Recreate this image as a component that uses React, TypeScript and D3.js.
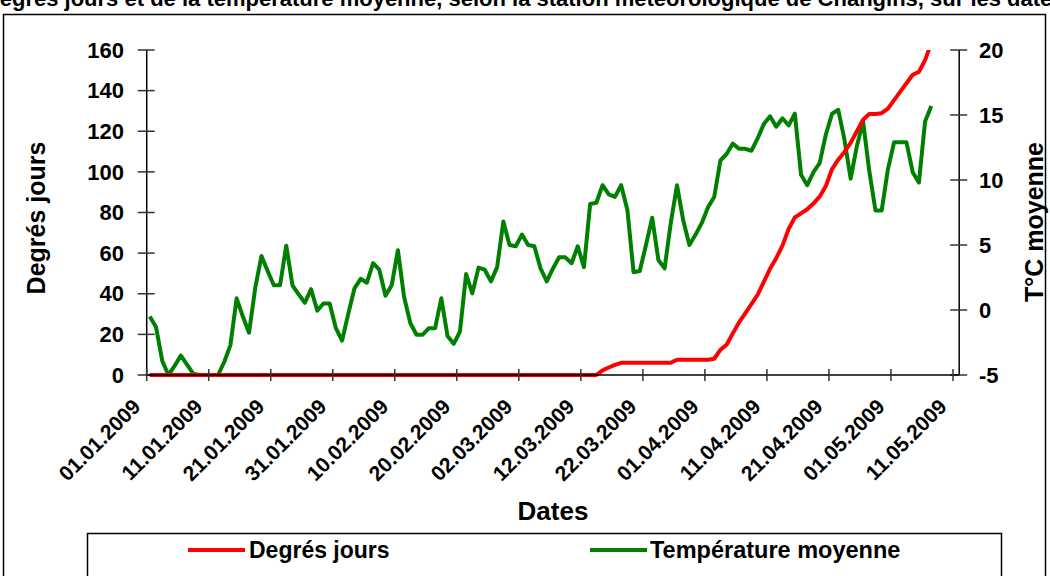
import React from 'react';
import * as d3 from 'd3';

// ---- Data ----
const startDay = new Date(Date.UTC(2009, 0, 1));
const dates: Date[] = d3.utcDay.range(startDay, new Date(Date.UTC(2009, 4, 8))); // 01.01 .. 07.05

const degresJours: number[] = [
  0, 0, 0, 0, 0, 0, 0, 0, 0, 0,
  0, 0, 0, 0, 0, 0, 0, 0, 0, 0,
  0, 0, 0, 0, 0, 0, 0, 0, 0, 0,
  0, 0, 0, 0, 0, 0, 0, 0, 0, 0,
  0, 0, 0, 0, 0, 0, 0, 0, 0, 0,
  0, 0, 0, 0, 0, 0, 0, 0, 0, 0,
  0, 0, 0, 0, 0, 0, 0, 0, 0, 0,
  0, 0,
  0, 2.3, 3.7, 5.0, 6.0, 6.0, 6.0, 6.0, 6.0, 6.0,
  6.0, 6.0, 6.0, 7.5, 7.5, 7.5, 7.5, 7.5, 7.5, 8.0,
  12.4, 14.9, 20.5, 25.9, 30.3, 34.9, 39.5, 45.9, 52.3, 57.5,
  63.7, 71.9, 77.6, 79.6, 81.6, 84.4, 87.8, 93.0, 101.4, 106.0,
  109.8, 114.3, 120.0, 125.7, 128.5, 128.5, 128.9, 131.1, 135.3, 139.5,
  143.6, 147.8, 149.2, 155.0, 163.5,
];

const temperatureMoyenne: number[] = [
  -0.5, -1.3, -3.9, -5.0, -4.3, -3.5, -4.2, -4.9, -5.0, -5.0,
  -5.0, -5.0, -4.0, -2.7, 0.9, -0.5, -1.75, 1.7, 4.15, 3.0,
  1.9, 1.9, 4.95, 1.9, 1.2, 0.56, 1.6, -0.05, 0.5, 0.5,
  -1.4, -2.35, -0.3, 1.67, 2.4, 2.1, 3.6, 3.1, 1.1, 1.9,
  4.6, 1.0, -1.0, -1.9, -1.9, -1.4, -1.4, 0.9, -2.0, -2.6,
  -1.67, 2.77, 1.28, 3.26, 3.1, 2.2, 3.3, 6.8, 5.0, 4.9,
  5.8, 5.0, 4.9, 3.2, 2.2, 3.2, 4.05, 4.05, 3.6, 4.9,
  3.3, 8.15, 8.25, 9.6, 8.9, 8.7, 9.6, 7.7, 2.9, 3.0,
  5.0, 7.1, 3.85, 3.2, 6.7, 9.6, 6.9, 5.0, 5.8, 6.7,
  7.9, 8.7, 11.5, 12.0, 12.8, 12.4, 12.4, 12.25, 13.2, 14.3,
  14.9, 14.1, 14.75, 14.2, 15.1, 10.4, 9.6, 10.6, 11.3, 13.5,
  15.1, 15.4, 13.1, 10.1, 12.6, 14.5, 10.7, 7.65, 7.65, 10.8,
  12.9, 12.9, 12.9, 10.6, 9.8, 14.5, 15.7,
];

const xTickLabels: string[] = [
  '01.01.2009', '11.01.2009', '21.01.2009', '31.01.2009', '10.02.2009',
  '20.02.2009', '02.03.2009', '12.03.2009', '22.03.2009', '01.04.2009',
  '11.04.2009', '21.04.2009', '01.05.2009', '11.05.2009',
];
const leftTicks: number[] = [0, 20, 40, 60, 80, 100, 120, 140, 160];
const rightTicks: number[] = [-5, 0, 5, 10, 15, 20];

const seriesNames = ['Degrés jours', 'Température moyenne'];
const titleText =
  "Évolution des degrés jours et de la température moyenne, selon la station météorologique de Changins, sur les dates d'observation";

// ---- Layout ----
const W = 1050;
const H = 576;
const PLOT = { left: 146.7, right: 959.2, top: 50, bottom: 375 };
const FONT = "Arial, 'Liberation Sans', sans-serif";
const RED = '#FF0000';
const GREEN = '#008000';
const AXIS = '#000000';
const TICKC = '#333333';

const parseD = d3.utcParse('%d.%m.%Y');

export default function App() {
  const xScale = d3
    .scaleUtc()
    .domain([startDay, new Date(Date.UTC(2009, 4, 12))])
    .range([PLOT.left, PLOT.right]);
  const yLeft = d3.scaleLinear().domain([0, 160]).range([PLOT.bottom, PLOT.top]);
  const yRight = d3.scaleLinear().domain([-5, 20]).range([PLOT.bottom, PLOT.top]);
  const halfDay = 12 * 3600 * 1000;
  const px = (d: Date) => xScale(new Date(d.getTime() + halfDay));

  const lineDJ = d3
    .line<number>()
    .x((_, i) => px(dates[i]))
    .y((v) => yLeft(v));
  const lineT = d3
    .line<number>()
    .x((_, i) => px(dates[i]))
    .y((v) => yRight(v));

  const tickDates = xTickLabels.map((s) => parseD(s) as Date);

  return (
    <svg
      width={W}
      height={H}
      viewBox={`0 0 ${W} ${H}`}
      style={{ position: 'absolute', left: 0, top: 0, background: '#fff' }}
      fontFamily={FONT}
    >
      <defs>
        <clipPath id="plotClip">
          <rect x={PLOT.left - 1} y={PLOT.top} width={PLOT.right - PLOT.left + 2} height={PLOT.bottom - PLOT.top + 6} />
        </clipPath>
      </defs>
      <rect x={0} y={0} width={W} height={H} fill="#fff" />

      {/* top title (cut off by the page edge, as in the reference) */}
      <text x={525} y={6} textAnchor="middle" fontSize={22} fontWeight="bold" fill="#000">
        {titleText}
      </text>

      {/* chart border */}
      <rect x={3.5} y={14.5} width={1042} height={620} fill="none" stroke="#000" strokeWidth={1.5} />

      {/* series */}
      <g clipPath="url(#plotClip)">
        <path d={lineT(temperatureMoyenne) || ''} fill="none" stroke={GREEN} strokeWidth={4} strokeLinejoin="round" />
        <path d={lineDJ(degresJours) || ''} fill="none" stroke={RED} strokeWidth={4} strokeLinejoin="round" />
      </g>

      {/* left axis */}
      <line x1={PLOT.left} x2={PLOT.left} y1={PLOT.top} y2={PLOT.bottom} stroke={AXIS} strokeWidth={1.5} />
      {leftTicks.map((t) => (
        <g key={'l' + t}>
          <line x1={PLOT.left - 9} x2={PLOT.left + 8} y1={yLeft(t)} y2={yLeft(t)} stroke={TICKC} strokeWidth={1.5} />
          <text x={124} y={yLeft(t)} dy="0.35em" textAnchor="end" fontSize={22} fontWeight="bold" fill="#000">
            {t}
          </text>
        </g>
      ))}

      {/* right axis */}
      <line x1={PLOT.right} x2={PLOT.right} y1={PLOT.top} y2={PLOT.bottom} stroke={AXIS} strokeWidth={1.5} />
      {rightTicks.map((t) => (
        <g key={'r' + t}>
          <line x1={PLOT.right - 9} x2={PLOT.right + 8} y1={yRight(t)} y2={yRight(t)} stroke={TICKC} strokeWidth={1.5} />
          <text x={979} y={yRight(t)} dy="0.35em" textAnchor="start" fontSize={22} fontWeight="bold" fill="#000">
            {t}
          </text>
        </g>
      ))}

      {/* x axis */}
      <line x1={PLOT.left} x2={PLOT.right} y1={PLOT.bottom} y2={PLOT.bottom} stroke={AXIS} strokeWidth={1.5} />
      {tickDates.map((d, i) => {
        const x = xScale(d);
        return (
          <g key={'x' + i}>
            <line x1={x} x2={x} y1={PLOT.bottom - 6} y2={PLOT.bottom + 6} stroke={TICKC} strokeWidth={1.5} />
            <text
              transform={`translate(${x - 5},${408}) rotate(-45)`}
              textAnchor="end"
              fontSize={21}
              fontWeight="bold"
              fill="#000"
            >
              {xTickLabels[i]}
            </text>
          </g>
        );
      })}

      {/* axis titles */}
      <text transform="translate(45,218) rotate(-90)" textAnchor="middle" fontSize={25} fontWeight="bold" fill="#000">
        Degrés jours
      </text>
      <text transform="translate(1043,222) rotate(-90)" textAnchor="middle" fontSize={25} fontWeight="bold" fill="#000">
        T°C moyenne
      </text>
      <text x={553} y={520} textAnchor="middle" fontSize={26} fontWeight="bold" fill="#000">
        Dates
      </text>

      {/* legend */}
      <rect x={87.5} y={533.5} width={914} height={80} fill="#fff" stroke="#000" strokeWidth={1.5} />
      <line x1={188} x2={245} y1={550} y2={550} stroke={RED} strokeWidth={4} />
      <text x={249} y={558} fontSize={23} fontWeight="bold" fill="#000">
        {seriesNames[0]}
      </text>
      <line x1={590} x2={647} y1={550} y2={550} stroke={GREEN} strokeWidth={4} />
      <text x={650} y={558} fontSize={23.5} fontWeight="bold" fill="#000">
        {seriesNames[1]}
      </text>
    </svg>
  );
}
